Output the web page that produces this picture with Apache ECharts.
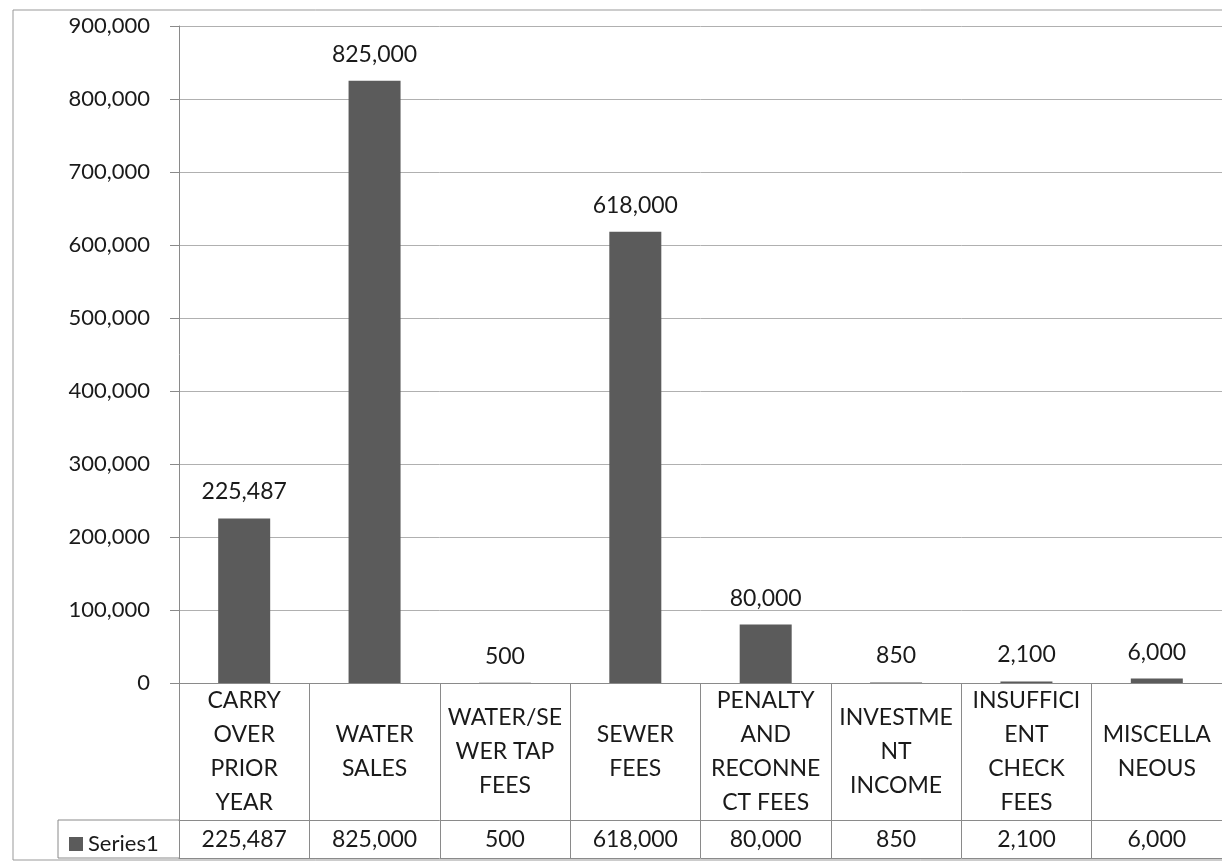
<!DOCTYPE html>
<html><head><meta charset="utf-8">
<script src="https://cdn.jsdelivr.net/npm/echarts@6/dist/echarts.min.js"></script>
<style>html,body{margin:0;padding:0;background:#fff}#c{width:1222px;height:865px}</style>
</head><body><div id="c"></div>
<script>
const categories = ['CARRY OVER PRIOR YEAR','WATER SALES','WATER/SEWER TAP FEES','SEWER FEES','PENALTY AND RECONNECT FEES','INVESTMENT INCOME','INSUFFICIENT CHECK FEES','MISCELLANEOUS'];
const categoryLines = ['CARRY\nOVER\nPRIOR\nYEAR','WATER\nSALES','WATER/SE\nWER TAP\nFEES','SEWER\nFEES','PENALTY\nAND\nRECONNE\nCT FEES','INVESTME\nNT\nINCOME','INSUFFICI\nENT\nCHECK\nFEES','MISCELLA\nNEOUS'];
const series1 = [225487, 825000, 500, 618000, 80000, 850, 2100, 6000];
const seriesName = 'Series1';
const yTicks = [0,100000,200000,300000,400000,500000,600000,700000,800000,900000];

const fmt = v => Number(v).toLocaleString('en-US');
const FONT = 'Lato';
const TXT = '#1a1a1a';
const LINE = '#8a8a8a';

const chart = echarts.init(document.getElementById('c'), null, {renderer:'canvas'});
const gridLeft = 179, gridTop = 26, gridHeight = 657, gridWidth = 1048;
const row1 = 137, row2 = 38;
chart.setOption({
  animation:false,
  textStyle:{fontFamily:FONT},
  grid:{left:gridLeft, top:gridTop, width:gridWidth, height:gridHeight},
  legend:{
    show:true, data:[seriesName], left:64, top:gridTop+gridHeight+row1+8,
    icon:'rect', itemWidth:14, itemHeight:14, itemGap:3,
    textStyle:{fontFamily:FONT, fontSize:22, color:TXT, padding:[2,0,0,0]},
    selectedMode:false
  },
  xAxis:[
    {type:'category', data:categories, position:'bottom',
     axisLine:{show:true, lineStyle:{color:LINE, width:1}},
     axisTick:{show:true, alignWithLabel:false, interval:0, length:row1+row2, lineStyle:{color:LINE}},
     axisLabel:{interval:0, margin:row1/2, verticalAlign:'middle', fontFamily:FONT, fontSize:23, color:TXT, lineHeight:34,
       formatter:(v,i)=>categoryLines[i]}
    },
    {type:'category', data:categories, position:'bottom', offset:row1,
     axisLine:{show:true, lineStyle:{color:LINE, width:1}},
     axisTick:{show:false},
     axisLabel:{interval:0, margin:row2/2+1, verticalAlign:'middle', fontFamily:FONT, fontSize:23, color:TXT,
       formatter:(v,i)=>fmt(series1[i])}
    },
    {type:'category', data:categories, position:'bottom', offset:row1+row2,
     axisLine:{show:true, lineStyle:{color:LINE, width:1}},
     axisTick:{show:false}, axisLabel:{show:false}
    }
  ],
  yAxis:{
    type:'value', min:yTicks[0], max:yTicks[yTicks.length-1], interval:yTicks[1]-yTicks[0],
    axisLine:{show:true, lineStyle:{color:LINE}},
    axisTick:{show:true, length:9, lineStyle:{color:LINE}},
    splitLine:{show:true, lineStyle:{color:'#b0b0b0', width:1}},
    axisLabel:{margin:29, fontFamily:FONT, fontSize:22, color:TXT, formatter:v=>fmt(v)}
  },
  series:[{
    name:seriesName, type:'bar', xAxisIndex:0, data:series1, barWidth:52,
    itemStyle:{color:'#5b5b5b'},
    label:{show:true, position:'top', distance:15, fontFamily:FONT, fontSize:23, color:TXT, formatter:p=>fmt(p.value)}
  }],
  graphic:[
    {type:'rect', shape:{x:13, y:10, width:1230, height:850}, style:{fill:'none', stroke:'#999', lineWidth:1}, silent:true},
    {type:'polyline', shape:{points:[[gridLeft, gridTop+gridHeight+row1],[58, gridTop+gridHeight+row1],[58, gridTop+gridHeight+row1+row2],[gridLeft, gridTop+gridHeight+row1+row2]]}, style:{fill:'none', stroke:LINE, lineWidth:1}, silent:true}
  ]
});
</script></body></html>
